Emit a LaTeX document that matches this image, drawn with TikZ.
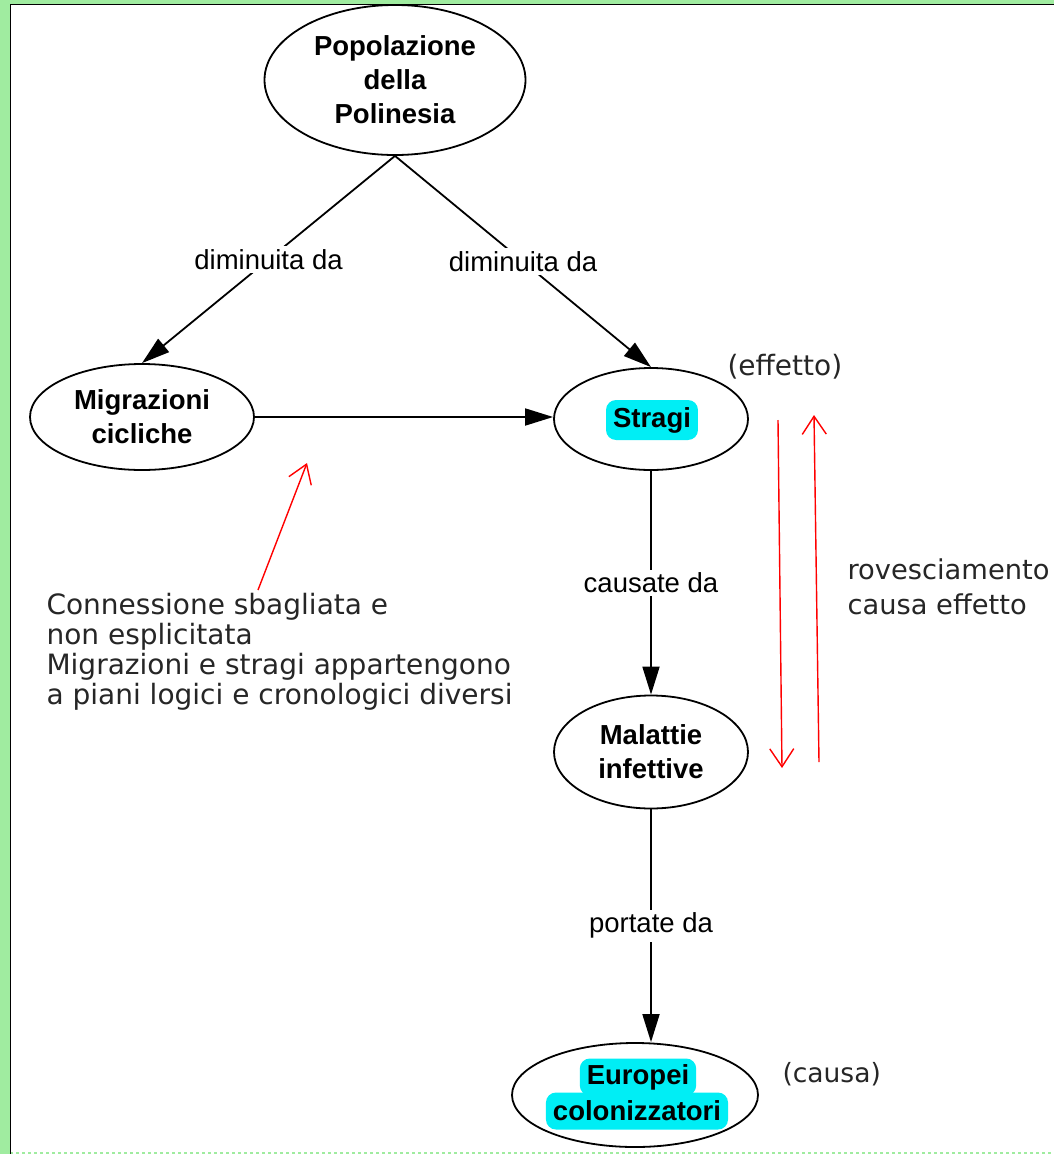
\documentclass[tikz,border=0pt]{standalone}
\usepackage{fontspec}
\usetikzlibrary{shapes.geometric,arrows.meta,calc}
\newfontfamily\arialf{Liberation Sans}
\newfontfamily\verdf{DejaVu Sans}
\definecolor{bordgreen}{RGB}{160,236,160}
\definecolor{hlcyan}{RGB}{0,238,245}
\begin{document}
\begin{tikzpicture}[x=1pt,y=-1pt,
  concept/.style={ellipse, draw=black, line width=1.8pt, inner sep=0pt, align=center,
    font=\arialf\bfseries\fontsize{27.5}{34}\selectfont},
  hl/.style={fill=hlcyan, rounded corners=10pt, inner xsep=7pt, inner ysep=0pt,
    minimum height=37pt, font=\arialf\bfseries\fontsize{27.5}{34}\selectfont},
  link/.style={line width=1.8pt, -{Triangle[length=28pt,width=17pt]}},
  lab/.style={fill=white, inner sep=3pt, font=\arialf\fontsize{27.5}{32}\selectfont},
  note/.style={font=\verdf\fontsize{28}{30}\selectfont, text=black!85, align=left},
  redarr/.style={draw=red, line width=1.4pt, -{Straight Barb[length=18pt,width=24pt,line width=1.4pt]}}
]
\useasboundingbox (0,0) rectangle (1054,1154);
\fill[white] (0,0) rectangle (1054,1154);
% border
\fill[bordgreen] (0,0) rectangle (10,1154);
\fill[bordgreen] (0,0) rectangle (1054,4);
\draw[bordgreen, line width=2pt, dash pattern=on 3pt off 3pt] (10,1153) -- (1054,1153);
\draw[black, line width=1.5pt] (10.5,1154) -- (10.5,4.5) -- (1054,4.5);

% concepts
\node[concept, minimum width=261pt, minimum height=150pt] (pop) at (395,80) {Popolazione\\della\\Polinesia};
\node[concept, minimum width=224pt, minimum height=106pt] (migr) at (142,417) {Migrazioni\\cicliche};
\node[concept, minimum width=194pt, minimum height=102pt] (strag) at (651,419) {};
\node[hl, minimum height=40pt] (stragt) at (652,420) {Stragi};
\node[concept, minimum width=194pt, minimum height=113pt] (mal) at (651,752) {Malattie\\infettive};
\node[concept, minimum width=246pt, minimum height=104pt] (eur) at (635,1095) {};
\node[hl] (eur1) at (638,1077) {Europei};
\node[hl] (eur2) at (637,1111) {colonizzatori};

% links
\draw[link] (pop.south) -- node[lab] (l1) {diminuita da} (migr.north);
\draw[link] (pop.south) -- node[lab] (l2) {diminuita da} (strag.north);
\draw[link] (migr.east) -- (migr.east -| strag.west);
\draw[link] (strag.south) -- node[lab] (l3) {causate da} (mal.north);
\draw[link] (mal.south) -- node[lab] (l4) {portate da} (mal.south |- eur.north);

% red annotations
\coordinate (r1s) at (258,590); \coordinate (r1e) at (307,463);
\draw[redarr] (r1s) -- (r1e);
\coordinate (r2s) at (778,420); \coordinate (r2e) at (782,768);
\draw[redarr] (r2s) -- (r2e);
\coordinate (r3s) at (819,762); \coordinate (r3e) at (814,415);
\draw[redarr] (r3s) -- (r3e);

% notes
\node[note, anchor=west] (eff) at (724,367) {(effetto)};
\node[note, anchor=west, font=\verdf\fontsize{26.5}{30}\selectfont] (cau) at (779,1074) {(causa)};
\node[note, anchor=west, font=\verdf\fontsize{27.3}{35}\selectfont] (rov) at (844,587) {rovesciamento\\causa effetto};
\node[note, anchor=west] (conn) at (43,652) {Connessione sbagliata e\\non esplicitata\\Migrazioni e stragi appartengono\\a piani logici e cronologici diversi};
\end{tikzpicture}
\end{document}
